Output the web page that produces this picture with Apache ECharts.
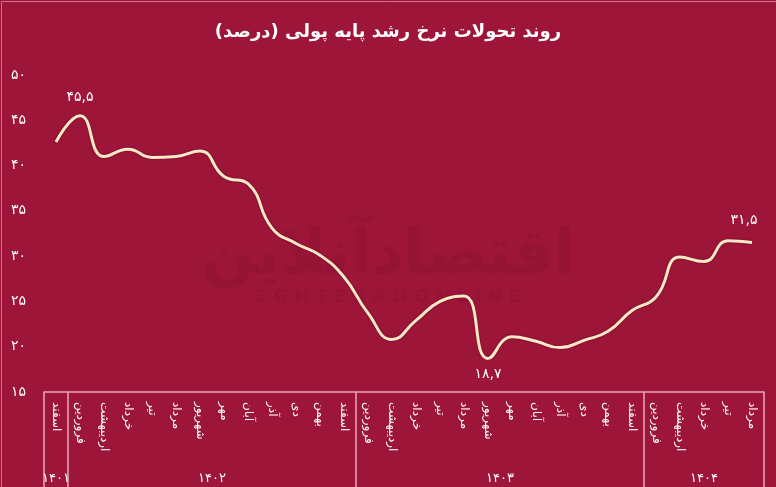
<!DOCTYPE html>
<html><head><meta charset="utf-8">
<script src="https://cdn.jsdelivr.net/npm/echarts@6/dist/echarts.min.js"></script>
<style>html,body{margin:0;padding:0;background:#9d1539;}#c{width:776px;height:487px;}</style>
</head><body><div id="c"></div>
<script>
// ---- data ----
const months = ["اسفند","فروردین","اردیبهشت","خرداد","تیر","مرداد","شهریور","مهر","آبان","آذر","دی","بهمن","اسفند",
  "فروردین","اردیبهشت","خرداد","تیر","مرداد","شهریور","مهر","آبان","آذر","دی","بهمن","اسفند",
  "فروردین","اردیبهشت","خرداد","تیر","مرداد"];
const values = [42.6,45.5,41.0,41.8,40.9,41.0,41.6,38.8,38.0,33.1,31.4,30.1,27.7,
  23.7,20.8,22.9,25.0,25.6,18.7,21.1,20.6,19.9,20.7,21.7,24.0,
  25.5,29.9,29.4,31.7,31.5];
const years = ["۱۴۰۱","۱۴۰۲","۱۴۰۳","۱۴۰۴"];
const yearSizes = [1,12,12,5];
const labelled = [1,18,29];
const labelBelow = [18];
const yMin = 15, yMax = 50, yStep = 5;
const title = "روند تحولات نرخ رشد پایه پولی (درصد)";

const fa = s => String(s).replace(/\d/g, d => "۰۱۲۳۴۵۶۷۸۹"[d]).replace(/\./g, ",");

// year boundaries / centers
const bounds = [0]; yearSizes.forEach(n => bounds.push(bounds[bounds.length-1] + n));
const centers = yearSizes.map((n,i) => bounds[i] + n/2);

const FONT = "DejaVu Sans";
const chart = echarts.init(document.getElementById('c'));
chart.setOption({
  backgroundColor: '#9d1539',
  animation: false,
  title: { text: title, left: 'center', top: 18,
    textStyle: { color: '#ffffff', fontSize: 18, fontWeight: 'bold', fontFamily: FONT } },
  graphic: [
    { type: 'text', left: 'center', top: 226, z: 0,
      style: { text: 'اقتصادآنلاین', fontSize: 62, fontWeight: 'bold', fontFamily: FONT, fill: 'rgba(60,0,20,0.07)' } },
    { type: 'text', left: 'center', top: 288, z: 0,
      style: { text: 'E G H T E S A D O N L I N E', fontSize: 18, fontWeight: 'bold', fontFamily: FONT, fill: 'rgba(60,0,20,0.07)' } },
    { type: 'rect', shape: { x: 1.5, y: 1.5, width: 800, height: 600 }, silent: true,
      style: { fill: 'none', stroke: 'rgba(240,180,195,0.6)', lineWidth: 1 } }
  ],
  grid: { left: 44, right: 12, top: 75, bottom: 95 },
  xAxis: [
    { type: 'category', data: months, boundaryGap: true,
      axisLine: { show: true, lineStyle: { color: '#e9a7b7', width: 1.5 } },
      axisTick: { show: false },
      axisLabel: { interval: 0, rotate: -90, margin: 10, color: '#ffffff', fontSize: 12, fontFamily: FONT } },
    { type: 'value', position: 'bottom', min: 0, max: bounds[bounds.length-1],
      axisLine: { show: false }, splitLine: { show: false },
      axisTick: { show: true, customValues: bounds, length: 100, inside: false,
        lineStyle: { color: '#e9a7b7', width: 1.5 } },
      axisLabel: { show: true, customValues: centers, margin: 80, color: '#ffffff', fontSize: 13, fontFamily: FONT,
        formatter: v => years[centers.indexOf(v)] } }
  ],
  yAxis: { type: 'value', min: yMin, max: yMax, interval: yStep,
    axisLine: { show: false }, axisTick: { show: false }, splitLine: { show: false },
    axisLabel: { margin: 18, color: '#ffffff', fontSize: 14, fontFamily: FONT, formatter: v => fa(v) } },
  series: [{
    type: 'line', smooth: 0.5, symbol: 'circle', symbolSize: 2, showSymbol: true, xAxisIndex: 0,
    itemStyle: { color: 'rgba(0,0,0,0)', borderWidth: 0 },
    lineStyle: { color: '#f8e8c6', width: 3, shadowColor: 'rgba(60,0,10,0.55)', shadowBlur: 2 },
    label: { show: false },
    data: values.map((v, i) => labelled.includes(i) ? {
      value: v,
      label: { show: true, position: labelBelow.includes(i) ? 'bottom' : 'top',
        distance: labelBelow.includes(i) ? 8 : 10,
        offset: i === values.length - 1 ? [-8, -4] : [0, 0],
        color: '#ffffff', fontSize: 14, fontFamily: FONT, formatter: () => fa(v.toFixed(1)) }
    } : v)
  }]
});
</script></body></html>
